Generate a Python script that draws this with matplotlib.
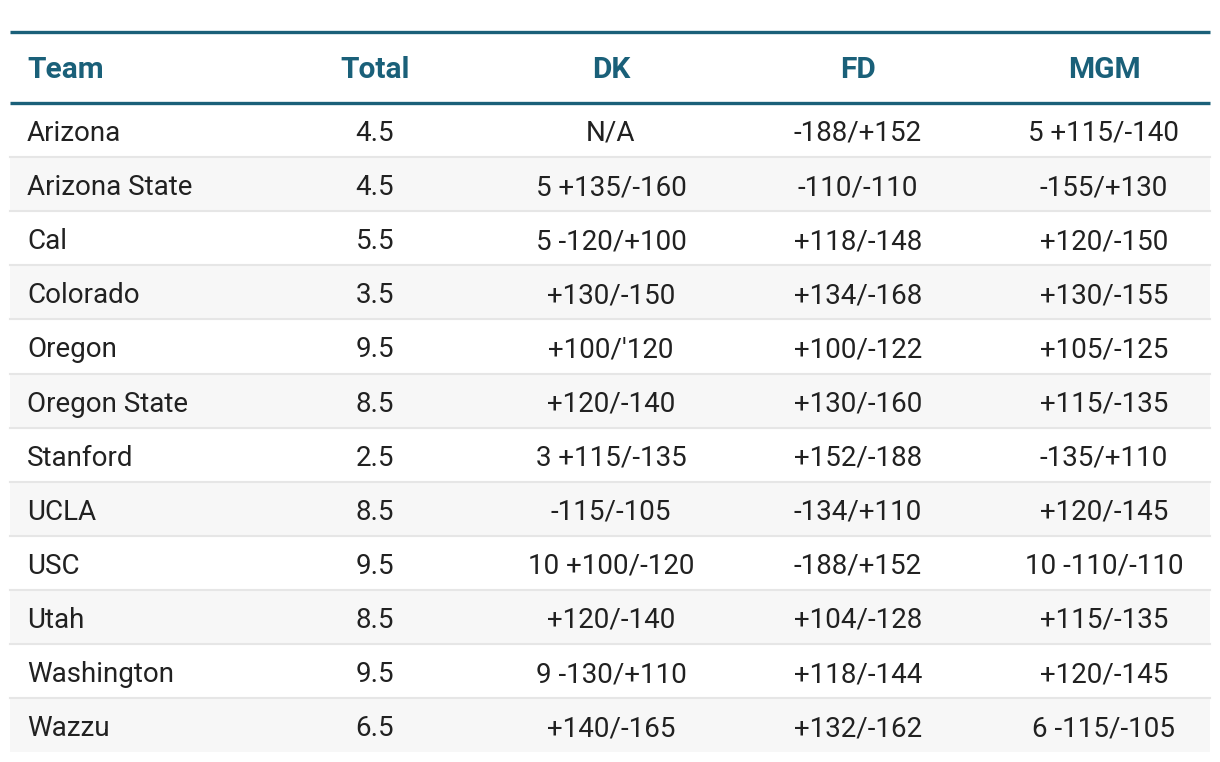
import matplotlib.pyplot as plt
from matplotlib.patches import Rectangle

plt.rcParams['font.family'] = ['Roboto', 'DejaVu Sans']

columns = ['Team', 'Total', 'DK', 'FD', 'MGM']
teams = ['Arizona', 'Arizona State', 'Cal', 'Colorado', 'Oregon', 'Oregon State',
         'Stanford', 'UCLA', 'USC', 'Utah', 'Washington', 'Wazzu']
totals = ['4.5', '4.5', '5.5', '3.5', '9.5', '8.5', '2.5', '8.5', '9.5', '8.5', '9.5', '6.5']
dk = ['N/A', '5 +135/-160', '5 -120/+100', '+130/-150', "+100/'120", '+120/-140',
      '3 +115/-135', '-115/-105', '10 +100/-120', '+120/-140', '9 -130/+110', '+140/-165']
fd = ['-188/+152', '-110/-110', '+118/-148', '+134/-168', '+100/-122', '+130/-160',
      '+152/-188', '-134/+110', '-188/+152', '+104/-128', '+118/-144', '+132/-162']
mgm = ['5 +115/-140', '-155/+130', '+120/-150', '+130/-155', '+105/-125', '+115/-135',
       '-135/+110', '+120/-145', '10 -110/-110', '+115/-135', '+120/-145', '6 -115/-105']

head_color = '#1a6079'
text_color = '#212121'

W, H = 1220, 762
fig = plt.figure(figsize=(12.2, 7.62), dpi=100)
ax = fig.add_axes([0, 0, 1, 1])
ax.set_xlim(0, W)
ax.set_ylim(H, 0)
ax.axis('off')

left, right = 10, 1210
top_line = 32
head_bottom = 103
row_h = 54.1
col_x = [27, 375, 611, 858, 1104]

# header
ax.plot([left, right], [top_line, top_line], color=head_color, lw=2.4, solid_capstyle='butt')
for j, c in enumerate(columns):
    ax.text(col_x[j], 78, c, ha='left' if j == 0 else 'center',
            va='baseline', fontsize=21.5, fontweight='bold', color=head_color)

cols = [teams, totals, dk, fd, mgm]
for i in range(len(teams)):
    y0 = head_bottom + i * row_h
    if i % 2 == 1:
        ax.add_patch(Rectangle((left, y0), right - left, row_h, facecolor='#f7f7f7', lw=0))
    if i < len(teams) - 1:
        ax.plot([left, right], [y0 + row_h, y0 + row_h], color='#e6e6e6', lw=1.5)
    for j, col in enumerate(cols):
        ax.text(col_x[j], y0 + 38, col[i], ha='left' if j == 0 else 'center',
                va='baseline', fontsize=20, color=text_color)

ax.plot([left, right], [head_bottom, head_bottom], color=head_color, lw=2.4, solid_capstyle='butt')

fig.savefig('out.png', dpi=100)
